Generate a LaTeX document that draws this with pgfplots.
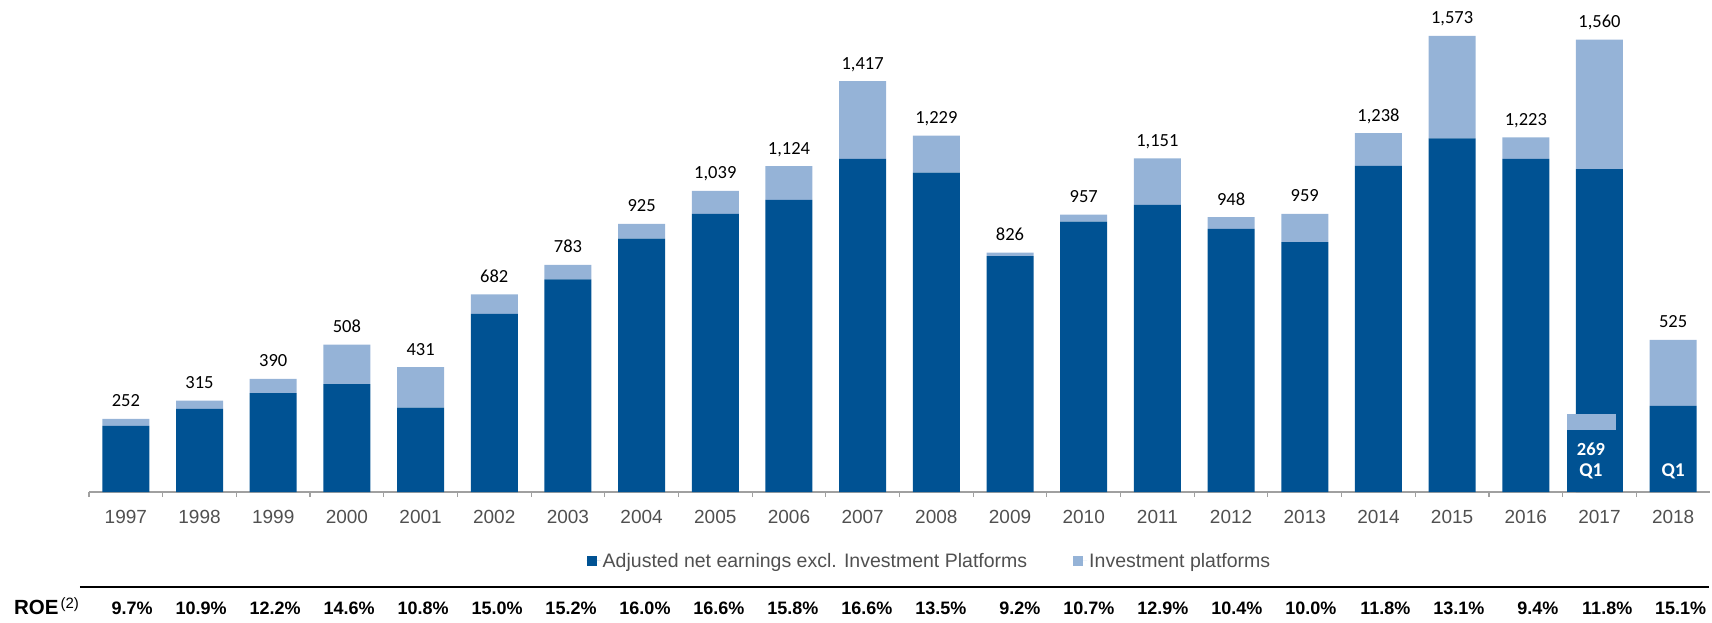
\documentclass[border=0pt]{standalone}
\usepackage{pgfplots}
\pgfplotsset{compat=1.18}
\usepackage{pgfplotstable}
\usepackage{fontspec}
\setmainfont{Liberation Sans}
\newfontfamily\calibri{Carlito}
\definecolor{darkb}{HTML}{005293}
\definecolor{lightb}{HTML}{95B3D7}
\definecolor{axgray}{HTML}{A0A0A0}
\definecolor{yeargray}{HTML}{505050}

\pgfplotstableread{
idx dark light total label
0 228 24 252 252
1 287 28 315 315
2 341 49 390 390
3 372 136 508 508
4 291 140 431 431
5 614 68 682 682
6 733 50 783 783
7 874 51 925 925
8 959 80 1039 1,039
9 1008 116 1124 1,124
10 1149 268 1417 1,417
11 1102 127 1229 1,229
12 814 12 826 826
13 933 24 957 957
14 990 161 1151 1,151
15 908 40 948 948
16 862 97 959 959
17 1125 113 1238 1,238
18 1220 353 1573 1,573
19 1149 74 1223 1,223
20 1114 446 1560 1,560
21 297 228 525 525
}\earnings

\pgfplotstableread{
idx dark light
20 214 55
}\qone

\pgfplotsset{basegeom/.style={
  at={(0pt,0pt)}, anchor=south west,
  scale only axis, width=1621pt, height=492pt,
  xmin=-0.5, xmax=21.5, ymin=0, ymax=1697, clip=false}}

\begin{document}
\begin{tikzpicture}
\path[use as bounding box] (-89pt,-130pt) rectangle (1623pt,492pt);
\begin{axis}[
  basegeom,
  axis x line*=bottom, axis y line=none,
  x axis line style={-, draw=axgray, line width=1.1pt},
  ybar stacked, bar width=47pt,
  xtick={0,...,21},
  xticklabels={1997,1998,1999,2000,2001,2002,2003,2004,2005,2006,2007,2008,2009,2010,2011,2012,2013,2014,2015,2016,2017,2018},
  major tick length=0pt,
  minor xtick={-0.5,0.5,...,20.5},
  minor tick length=5pt, tick align=outside,
  minor tick style={draw=axgray, line width=1.1pt},
  xticklabel style={font=\fontsize{19}{22}\selectfont, text=yeargray, anchor=base, yshift=-31pt},
  legend image code/.code={\fill[#1] (0pt,-5pt) rectangle (10pt,5pt); \path (0pt,0pt) -- (14pt,0pt);},
  legend style={draw=none, fill=none, at={(0.5185,-0.1402)}, anchor=center,
    font=\fontsize{19.5}{22}\selectfont, text=yeargray, legend columns=2,
    /tikz/every even column/.append style={column sep=44pt},
    nodes={inner sep=2pt}},
]
\addplot[fill=darkb, draw=none] table[x=idx, y=dark] {\earnings};
\addplot[fill=lightb, draw=none] table[x=idx, y=light] {\earnings};
\legend{Adjusted net earnings excl. Investment Platforms, Investment platforms}
\end{axis}
\begin{axis}[
  basegeom, hide axis,
  ybar stacked, bar width=49pt, bar shift=-8.5pt,
]
\addplot[fill=darkb, draw=none] table[x=idx, y=dark] {\qone};
\addplot[fill=lightb, draw=none] table[x=idx, y=light] {\qone};
\end{axis}
\begin{axis}[basegeom, hide axis]
\addplot[draw=none, mark=none,
  nodes near coords, point meta=explicit symbolic,
  nodes near coords style={anchor=base, yshift=12pt, inner sep=0pt, text=black,
    font=\calibri\fontsize{18.5}{22}\selectfont}]
  table[x=idx, y=total, meta=label] {\earnings};
\node[anchor=base, inner sep=0pt, text=white, font=\calibri\bfseries\fontsize{18.5}{21}\selectfont, xshift=-8.5pt] at (axis cs:20,127) {269};
\node[anchor=base, inner sep=0pt, text=white, font=\calibri\bfseries\fontsize{19.5}{22}\selectfont, xshift=-8.5pt] at (axis cs:20,52) {Q1};
\node[anchor=base, inner sep=0pt, text=white, font=\calibri\bfseries\fontsize{19.5}{22}\selectfont] at (axis cs:21,52) {Q1};
\end{axis}
\draw[black, line width=2.5pt] (-9pt,-95pt) -- (1620pt,-95pt);
\node[anchor=base west, inner sep=0pt] at (-75pt,-122pt) {\fontsize{20.5}{24}\selectfont\bfseries ROE\kern2pt\raisebox{5.5pt}{\fontsize{15}{18}\selectfont\mdseries(2)}};
\foreach \v [count=\i from 0] in {9.7,10.9,12.2,14.6,10.8,15.0,15.2,16.0,16.6,15.8,16.6,13.5,9.2,10.7,12.9,10.4,10.0,11.8,13.1,9.4,11.8,15.1} {
  \node[anchor=base east, inner sep=0pt, font=\fontsize{18}{21}\selectfont\bfseries] at ({36.85pt+73.68pt*\i+27pt+0.3pt*\i}, -122pt) {\v\%};
}
\end{tikzpicture}
\end{document}
